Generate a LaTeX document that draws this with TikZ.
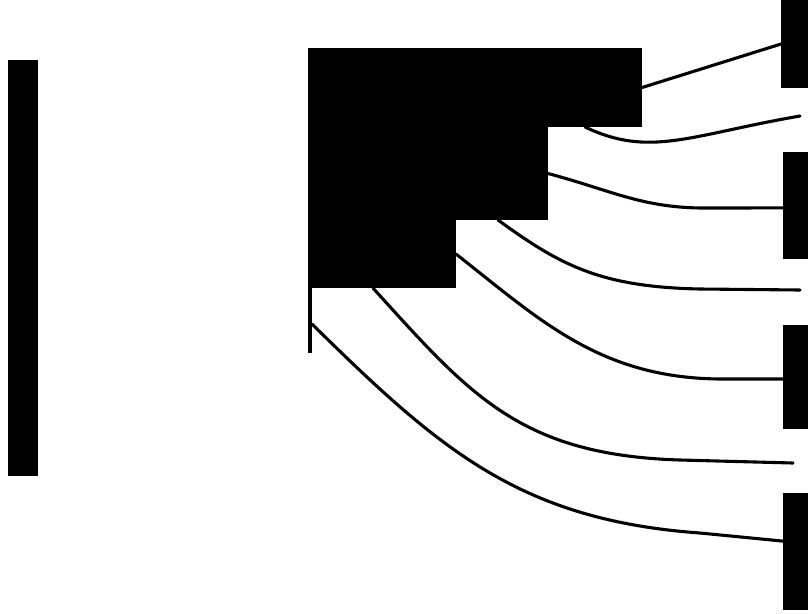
\documentclass[tikz,border=0pt]{standalone}
\usetikzlibrary{positioning, calc}
\tikzset{
  block/.style={rectangle, fill=black, inner sep=0pt, outer sep=0pt, anchor=north west},
  wire/.style={line width=2.2pt, black, line cap=round},
  stub/.style={line width=3pt, black},
}
\begin{document}
\begin{tikzpicture}[x=0.025cm, y=-0.025cm]
  \useasboundingbox (0,0) rectangle (808,613);

  % --- Left plate ---
  \node[block, minimum width=0.75cm, minimum height=10.4cm] (plate) at (8,60) {};

  % --- Stepped block ---
  \node[block, minimum width=8.35cm, minimum height=1.975cm] (stepA) at (308,48) {};
  \node[block, minimum width=6cm, minimum height=2.325cm,
        below=0pt of stepA.south west, anchor=north west] (stepB) {};
  \node[block, minimum width=3.7cm, minimum height=1.7cm,
        below=0pt of stepB.south west, anchor=north west] (stepC) {};
  \coordinate (stubtop) at ($(stepC.south west)+(2,0)$);
  \coordinate (stubend) at ($(stubtop)+(0,65)$);

  % --- Right targets ---
  \node[block, minimum width=0.675cm, minimum height=2.2cm] (barA) at (781,0) {};
  \node[block, minimum width=0.625cm, minimum height=2.675cm] (barB) at (783,152) {};
  \node[block, minimum width=0.625cm, minimum height=2.6cm] (barC) at (783,325) {};
  \node[block, minimum width=0.625cm, minimum height=2.925cm] (barD) at (783,493) {};

  % --- Free ends ---
  \coordinate (endA) at (800,116);
  \coordinate (endB) at (800,290);
  \coordinate (endC) at (793,463);

  % --- Wires ---
  \draw[stub] (stubtop) -- (stubend);
  \draw[wire] (stepA.east) -- (barA.west);
  \draw[wire] ($(stepA.south east)+(-57,0)$) .. controls (650,158) and (690,135) .. (endA);
  \draw[wire] (stepB.east) .. controls (610,190) and (640,207) .. (700,208) -- ([yshift=-0.06cm]barB.west);
  \draw[wire] ($(stepB.south east)+(-50,0)$) .. controls (560,265) and (600,287) .. (700,289) -- (endB);
  \draw[wire] (stepC.east) .. controls (540,320) and (600,378) .. (720,379) -- ([yshift=-0.05cm]barC.west);
  \draw[wire] ($(stepC.south west)+(65,0)$) .. controls (470,395) and (520,455) .. (680,460) -- (endC);
  \draw[wire] ($(stubtop)+(2,36)$) .. controls (440,450) and (520,520) .. (700,533) -- ([yshift=0.26cm]barD.west);

\end{tikzpicture}
\end{document}
